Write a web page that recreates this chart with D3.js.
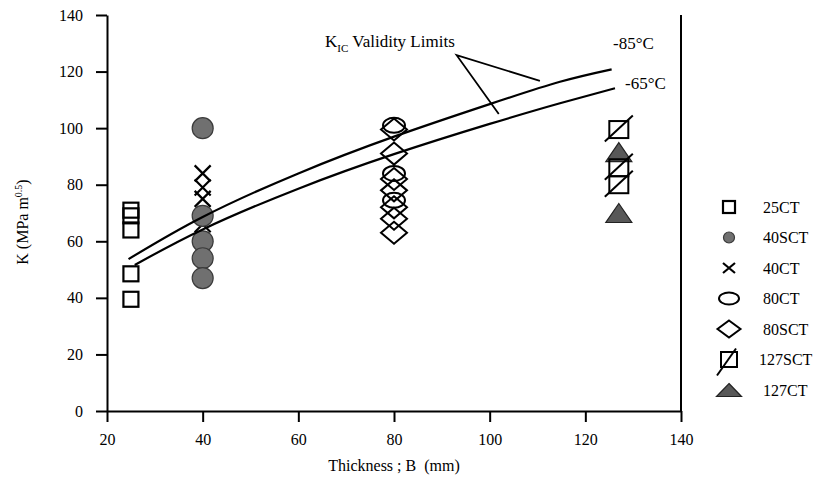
<!DOCTYPE html>
<html>
<head>
<meta charset="utf-8">
<script src="https://cdn.jsdelivr.net/npm/d3@7"></script>
<style>
body { margin: 0; background: #fff; }
</style>
</head>
<body>
<div id="chart"></div>
<script>
// values
var xTicks = [20, 40, 60, 80, 100, 120, 140];
var yTicks = [0, 20, 40, 60, 80, 100, 120, 140];

var k25CT = [71, 69, 64, 48.5, 39.5];
var k40SCT = [100, 69, 60, 54, 47];
var k40CT = [84, 79, 75, 66];
var k80CT = [101, 84, 74.5];
var k80SCT = [99.5, 91, 82, 78, 72, 68, 63];
var k127SCT = [99.5, 86, 80];
var k127CT = [91.5, 70];

// KIC validity limit curves
var limitB85 = [24.5, 40, 60, 80, 100, 114.7, 125.5];
var limitK85 = [53.7, 68.6, 84, 97, 108.5, 116.4, 120.8];
var limitB65 = [25.8, 40, 60, 80, 100, 114.7, 126.2];
var limitK65 = [51.6, 64.2, 78.6, 90.8, 101.5, 108.8, 114.1];

// leader lines of the "KIC Validity Limits" note
var pointerB = [110.5, 93.1, 101.9];
var pointerK = [116.7, 125.8, 105];

var legendNames = ["25CT", "40SCT", "40CT", "80CT", "80SCT", "127SCT", "127CT"];
var legendTypes = ["square", "disc", "cross", "ellipse", "diamond", "slashsq", "triangle"];

// drawing order (back to front)
var series = [
  {b: 25, k: k25CT, type: "square"},
  {b: 40, k: k40CT, type: "cross"},
  {b: 40, k: k40SCT, type: "disc"},
  {b: 80, k: k80CT, type: "ellipse"},
  {b: 80, k: k80SCT, type: "diamond"},
  {b: 127, k: k127CT, type: "triangle"},
  {b: 127, k: k127SCT, type: "slashsq"}
];

var width = 817, height = 485;
var serif = "'Liberation Serif', 'Times New Roman', Times, 'DejaVu Serif', serif";

var svg = d3.select("#chart").append("svg")
  .attr("width", width)
  .attr("height", height)
  .attr("font-family", serif);

var x = d3.scaleLinear().domain([20, 140]).range([107, 681]);
var y = d3.scaleLinear().domain([0, 140]).range([411, 15]);

// marker sizes: plot markers are larger than the legend ones
var big = {sq: 15, r: 10.5, cx: 8, cy: 8, ex: 11, ey: 7.5, dx: 13, dy: 11, ssw: 19, ssh: 17,
           sl: [-14, 12, 14, -14], tw: 26, th: 19};
var small = {sq: 12, r: 5.5, cx: 6, cy: 5, ex: 10, ey: 6, dx: 11.5, dy: 8.5, ssw: 16, ssh: 15,
             sl: [-12, 16, 7, -11], tw: 25, th: 13};

function marker(g, type, cx, cy, s) {
  var m = g.append("g").attr("transform", "translate(" + cx + "," + cy + ")");
  if (type == "square") {
    m.append("rect").attr("x", -s.sq / 2).attr("y", -s.sq / 2)
      .attr("width", s.sq).attr("height", s.sq)
      .attr("fill", "none").attr("stroke", "#000").attr("stroke-width", 2.2);
  }
  else if (type == "disc") {
    m.append("circle").attr("r", s.r)
      .attr("fill", "#707070").attr("stroke", "#3a3a3a").attr("stroke-width", 1.2);
  }
  else if (type == "cross") {
    m.append("path")
      .attr("d", "M" + (-s.cx) + "," + (-s.cy) + "L" + s.cx + "," + s.cy +
                 "M" + (-s.cx) + "," + s.cy + "L" + s.cx + "," + (-s.cy))
      .attr("stroke", "#000").attr("stroke-width", 2.2);
  }
  else if (type == "ellipse") {
    m.append("ellipse").attr("rx", s.ex).attr("ry", s.ey)
      .attr("fill", "none").attr("stroke", "#000").attr("stroke-width", 2);
  }
  else if (type == "diamond") {
    m.append("path")
      .attr("d", "M0," + (-s.dy) + "L" + s.dx + ",0L0," + s.dy + "L" + (-s.dx) + ",0Z")
      .attr("fill", "none").attr("stroke", "#000").attr("stroke-width", 2);
  }
  else if (type == "slashsq") {
    m.append("rect").attr("x", -s.ssw / 2).attr("y", -s.ssh / 2)
      .attr("width", s.ssw).attr("height", s.ssh)
      .attr("fill", "none").attr("stroke", "#000").attr("stroke-width", 2);
    m.append("line")
      .attr("x1", s.sl[0]).attr("y1", s.sl[1]).attr("x2", s.sl[2]).attr("y2", s.sl[3])
      .attr("stroke", "#000").attr("stroke-width", 2);
  }
  else if (type == "triangle") {
    m.append("path")
      .attr("d", "M0," + (-s.th / 2) + "L" + (s.tw / 2) + "," + (s.th / 2) +
                 "L" + (-s.tw / 2) + "," + (s.th / 2) + "Z")
      .attr("fill", "#585858").attr("stroke", "#222").attr("stroke-width", 1.2);
  }
}

// axes
var yAxis = d3.axisLeft(y).tickValues(yTicks).tickSize(11).tickSizeOuter(0).tickPadding(13);
var xAxis = d3.axisBottom(x).tickValues(xTicks).tickSize(11).tickSizeOuter(0).tickPadding(12);

var gy = svg.append("g").attr("transform", "translate(" + x(20) + ",0)").call(yAxis);
var gx = svg.append("g").attr("transform", "translate(0," + y(0) + ")").call(xAxis);

[gx, gy].forEach(function(g) {
  g.attr("font-family", serif).attr("font-size", 16);
  g.selectAll("path.domain").attr("stroke", "#000").attr("stroke-width", 2);
  g.selectAll(".tick line").attr("stroke", "#000").attr("stroke-width", 2);
  g.selectAll(".tick text").attr("fill", "#000");
});

// right frame line
svg.append("line")
  .attr("x1", x(140)).attr("x2", x(140))
  .attr("y1", y(140)).attr("y2", y(0))
  .attr("stroke", "#000").attr("stroke-width", 2);

// data markers
var plot = svg.append("g");
series.forEach(function(s) {
  s.k.forEach(function(v) {
    marker(plot, s.type, x(s.b), y(v), big);
  });
});

// validity limit curves
var line = d3.line()
  .x(function(d) { return x(d[0]); })
  .y(function(d) { return y(d[1]); })
  .curve(d3.curveNatural);

svg.append("path")
  .attr("d", line(d3.zip(limitB85, limitK85)))
  .attr("fill", "none").attr("stroke", "#000").attr("stroke-width", 2.2);

svg.append("path")
  .attr("d", line(d3.zip(limitB65, limitK65)))
  .attr("fill", "none").attr("stroke", "#000").attr("stroke-width", 2.2);

svg.append("path")
  .attr("d", d3.line().x(function(d) { return x(d[0]); }).y(function(d) { return y(d[1]); })(d3.zip(pointerB, pointerK)))
  .attr("fill", "none").attr("stroke", "#000").attr("stroke-width", 1.8);

// annotations
var note = svg.append("text").attr("x", 325).attr("y", 47).attr("font-size", 17);
note.append("tspan").text("K");
note.append("tspan").attr("dy", 5).attr("font-size", 11).text("IC");
note.append("tspan").attr("dy", -5).attr("dx", 4).text("Validity Limits");

svg.append("text").attr("x", 613).attr("y", 49).attr("font-size", 17).text("-85°C");
svg.append("text").attr("x", 625).attr("y", 89).attr("font-size", 17).text("-65°C");

// axis titles
svg.append("text")
  .attr("x", 394).attr("y", 471)
  .attr("text-anchor", "middle")
  .attr("font-size", 16)
  .attr("xml:space", "preserve")
  .text("Thickness ; B  (mm)");

var yt = svg.append("text")
  .attr("transform", "translate(28,222) rotate(-90)")
  .attr("text-anchor", "middle")
  .attr("font-size", 16);
yt.append("tspan").text("K (MPa m");
yt.append("tspan").attr("dy", -6).attr("font-size", 10).text("0.5");
yt.append("tspan").attr("dy", 6).text(")");

// legend
var legend = svg.append("g").attr("class", "legend");
legendNames.forEach(function(name, i) {
  var ly = 207 + i * 30.5;
  marker(legend, legendTypes[i], 729, ly, small);
  legend.append("text")
    .attr("x", name == "127SCT" ? 759 : 763)
    .attr("y", ly + 5.5)
    .attr("font-size", 16)
    .text(name);
});
</script>
</body>
</html>
